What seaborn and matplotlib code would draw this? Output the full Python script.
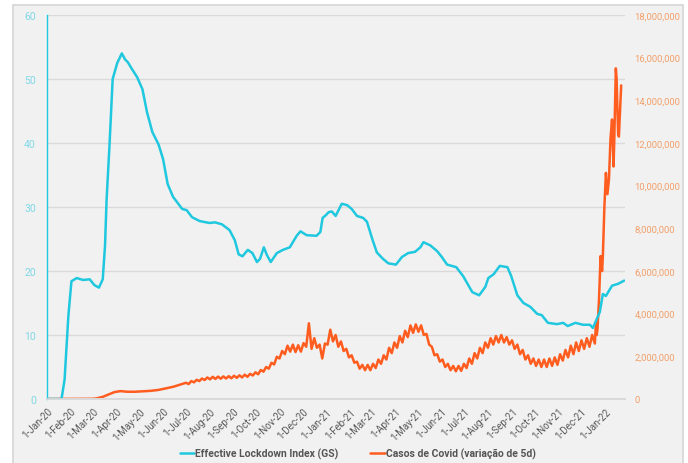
import matplotlib
matplotlib.use("Agg")
import matplotlib.pyplot as plt
import matplotlib.dates as mdates
import matplotlib.ticker as mticker
from matplotlib.patches import Rectangle
import seaborn as sns
import pandas as pd

# Effective Lockdown Index (GS) - left axis
lockdown_dates = [
    "2020-01-01", "2020-01-20", "2020-01-24", "2020-01-29", "2020-02-02", "2020-02-09",
    "2020-02-17", "2020-02-26", "2020-03-03", "2020-03-09", "2020-03-14", "2020-03-17",
    "2020-03-19", "2020-03-23", "2020-03-27", "2020-04-02", "2020-04-08", "2020-04-12",
    "2020-04-16", "2020-04-21", "2020-04-28", "2020-05-05", "2020-05-11", "2020-05-18",
    "2020-05-26", "2020-06-01", "2020-06-07", "2020-06-14", "2020-06-26", "2020-07-02",
    "2020-07-09", "2020-07-19", "2020-08-01", "2020-08-08", "2020-08-17", "2020-08-27",
    "2020-09-03", "2020-09-08", "2020-09-13", "2020-09-20", "2020-09-26", "2020-10-02",
    "2020-10-06", "2020-10-11", "2020-10-15", "2020-10-20", "2020-10-28", "2020-11-05",
    "2020-11-14", "2020-11-23", "2020-11-28", "2020-12-06", "2020-12-19", "2020-12-24",
    "2020-12-27", "2020-12-31", "2021-01-04", "2021-01-08", "2021-01-13", "2021-01-21",
    "2021-01-28", "2021-02-03", "2021-02-10", "2021-02-18", "2021-02-23", "2021-03-02",
    "2021-03-08", "2021-03-16", "2021-03-23", "2021-04-02", "2021-04-10", "2021-04-18",
    "2021-04-27", "2021-05-04", "2021-05-08", "2021-05-17", "2021-05-26", "2021-06-01",
    "2021-06-08", "2021-06-20", "2021-06-29", "2021-07-11", "2021-07-20", "2021-07-28",
    "2021-08-01", "2021-08-08", "2021-08-16", "2021-08-26", "2021-08-31", "2021-09-08",
    "2021-09-16", "2021-09-25", "2021-10-04", "2021-10-10", "2021-10-18", "2021-10-30",
    "2021-11-07", "2021-11-13", "2021-11-23", "2021-12-03", "2021-12-12", "2021-12-16",
    "2021-12-25", "2021-12-29", "2022-01-02", "2022-01-10", "2022-01-18", "2022-01-26",
]
lockdown_values = [
    0, 0, 3, 13, 18.4, 18.9,
    18.6, 18.7, 17.8, 17.4, 18.7, 24,
    31, 40, 50, 52.5, 54, 53.1,
    52.6, 51.6, 50.3, 48.4, 44.8, 41.7,
    39.8, 37.5, 33.6, 31.6, 29.7, 29.5,
    28.4, 27.8, 27.5, 27.6, 27.3, 26.4,
    24.8, 22.6, 22.3, 23.3, 22.8, 21.4,
    21.9, 23.7, 22.5, 21.4, 22.8, 23.3,
    23.7, 25.5, 26.2, 25.6, 25.5, 26.1,
    28.3, 28.7, 29.2, 29.3, 28.6, 30.5,
    30.3, 29.7, 28.6, 28.3, 27.7, 25.0,
    22.9, 21.9, 21.2, 21.0, 22.2, 22.8,
    23.0, 23.7, 24.5, 24.0, 23.1, 22.2,
    21.0, 20.6, 19.2, 16.7, 16.2, 17.5,
    18.9, 19.5, 20.8, 20.6, 19.2, 16.2,
    15.0, 14.4, 13.3, 13.1, 11.9, 11.7,
    11.9, 11.4, 11.9, 11.6, 11.6, 11.1,
    13.6, 16.4, 16.1, 17.7, 18.0, 18.5,
]

# Casos de Covid (variação de 5d), millions - right axis
# first wave, read at irregular dates
cases_early_dates = [
    "2020-01-01", "2020-02-01", "2020-03-01", "2020-03-06", "2020-03-14", "2020-03-22",
    "2020-03-29", "2020-04-06", "2020-04-15", "2020-04-25", "2020-05-05", "2020-05-15",
    "2020-05-25", "2020-06-05", "2020-06-15", "2020-06-24",
]
cases_early_values = [
    0, 0.005, 0.01, 0.03, 0.10, 0.22,
    0.32, 0.37, 0.34, 0.34, 0.36, 0.38,
    0.42, 0.50, 0.58, 0.68,
]
# from 1-Jul-20, one reading every 3.5 days (peaks and troughs of the weekly cycle)
cases_mid_start = "2020-07-01"
cases_mid_values = [
    0.76, 0.70, 0.84, 0.78, 0.90, 0.84, 0.96, 0.89, 1.01,          # Jul-20
    0.92, 1.04, 0.94, 1.05, 0.95, 1.06, 0.96, 1.07, 0.97,          # Aug-20
    1.09, 0.99, 1.11, 1.01, 1.14, 1.04, 1.18, 1.10, 1.25,          # Sep-20
    1.16, 1.36, 1.28, 1.50, 1.42, 1.70, 1.62, 1.98, 1.90,          # Oct-20
    2.25, 2.10, 2.50, 2.22, 2.55, 2.20, 2.52, 2.22,                # Nov-20
    2.62, 2.45, 3.55, 2.35, 2.85, 2.40, 2.55, 1.90, 2.60,          # Dec-20
    2.55, 3.25, 2.70, 3.00, 2.45, 2.70, 2.25, 2.35, 1.95,          # Jan-21
    2.05, 1.70, 1.75, 1.42, 1.60, 1.35, 1.60, 1.35,                # Feb-21
    1.65, 1.45, 1.85, 1.65, 2.05, 1.85, 2.40, 2.15, 2.65,          # Mar-21
    2.40, 2.95, 2.65, 3.20, 2.90, 3.45, 3.10, 3.50,                # Apr-21
    3.15, 3.45, 3.00, 3.05, 2.55, 2.45, 2.05, 2.10, 1.75,          # May-21
    1.85, 1.50, 1.65, 1.35, 1.55, 1.30, 1.55, 1.32, 1.65,          # Jun-21
    1.45, 1.90, 1.65, 2.15, 1.90, 2.40, 2.15, 2.65, 2.40,          # Jul-21
    2.85, 2.55, 2.95, 2.65, 3.00, 2.65, 2.90, 2.55,                # Aug-21
    2.75, 2.35, 2.55, 2.10, 2.30, 1.85, 2.05, 1.65, 1.90,          # Sep-21
    1.55, 1.85, 1.50, 1.85, 1.50, 1.90, 1.55, 1.95, 1.60,          # Oct-21
    2.10, 1.80, 2.30, 1.95, 2.50, 2.10, 2.65, 2.25,                # Nov-21
    2.75, 2.35, 2.85, 2.45, 3.00, 2.60,                            # Dec-21
]
# omicron surge, daily readings
cases_late_dates = [
    "2021-12-20", "2021-12-21", "2021-12-22", "2021-12-24", "2021-12-26", "2021-12-28",
    "2021-12-29", "2021-12-31", "2022-01-02", "2022-01-04", "2022-01-06", "2022-01-08",
    "2022-01-10", "2022-01-12", "2022-01-13", "2022-01-15", "2022-01-16", "2022-01-18",
    "2022-01-19", "2022-01-22",
]
cases_late_values = [
    3.6, 3.0, 3.3, 4.7, 6.7, 6.0,
    6.7, 9.0, 10.6, 9.6, 10.3, 12.2,
    13.1, 10.9, 12.2, 15.5, 15.0, 12.4,
    12.3, 14.7,
]

lockdown = pd.DataFrame({"date": pd.to_datetime(lockdown_dates), "value": lockdown_values})
cases = pd.concat([
    pd.DataFrame({"date": pd.to_datetime(cases_early_dates), "value": cases_early_values}),
    pd.DataFrame({"date": pd.date_range(cases_mid_start, periods=len(cases_mid_values), freq="84h"),
                  "value": cases_mid_values}),
    pd.DataFrame({"date": pd.to_datetime(cases_late_dates), "value": cases_late_values}),
], ignore_index=True)
cases["value"] = cases["value"] * 1e6

CYAN = "#1fc8de"
ORANGE = "#ff5d1f"
BG = "#f1f1f1"

sns.set_theme(style="white")
plt.rcParams["font.family"] = ["Roboto", "DejaVu Sans"]

fig = plt.figure(figsize=(6.88, 4.64), dpi=100, facecolor="white")
# grey card behind the chart
fig.patches.append(Rectangle((13 / 688, -0.01), 670 / 688, 1 - 6 / 464 + 0.01,
                             transform=fig.transFigure, facecolor=BG,
                             edgecolor="#d6d6d6", linewidth=1.2, zorder=-10))
ax = fig.add_axes([47 / 688, 64 / 464, 578 / 688, 384 / 464])
ax.set_facecolor(BG)
ax2 = ax.twinx()

sns.lineplot(data=cases, x="date", y="value", ax=ax2, color=ORANGE, linewidth=1.8,
             label="Casos de Covid (variação de 5d)", legend=False)
sns.lineplot(data=lockdown, x="date", y="value", ax=ax, color=CYAN, linewidth=1.8,
             label="Effective Lockdown Index (GS)", legend=False)
# cyan line on top, grid behind the orange line
ax2.set_zorder(1)
ax.set_zorder(2)
ax.patch.set_visible(False)
ax2.patch.set_visible(True)
ax2.patch.set_facecolor(BG)

ax.set_xlim(pd.Timestamp("2020-01-01"), pd.Timestamp("2022-01-27"))
ax.set_ylim(0, 60)
ax2.set_ylim(0, 18e6)
ax.set_yticks(range(0, 61, 10))
ax2.set_yticks(range(0, 18000001, 2000000))
ax2.yaxis.set_major_formatter(mticker.FuncFormatter(lambda v, p: f"{int(v):,}"))

ax.xaxis.set_major_locator(mdates.MonthLocator())
ax.xaxis.set_major_formatter(mdates.DateFormatter("1-%b-%y"))
for lab in ax.get_xticklabels():
    lab.set_rotation(45)
    lab.set_ha("right")
    lab.set_rotation_mode("anchor")
ax.tick_params(axis="x", labelsize=7, colors="#595959", length=3, width=0.8,
               color="#cfcfcf", pad=2)
ax.tick_params(axis="y", labelsize=7.5, colors="#7fd8e6", length=0, pad=8)
ax2.tick_params(axis="y", labelsize=6.8, colors="#f2a06a", length=0, pad=7)

ax2.yaxis.grid(False)
ax.yaxis.grid(False)
# horizontal grid drawn on the back axes so the orange line sits above it
for v in range(10, 61, 10):
    ax2.axhline(v * 3e5, color="#dadada", linewidth=1, zorder=0)
ax.set_xlabel("")
ax.set_ylabel("")
ax2.set_ylabel("")

for a in (ax, ax2):
    for s in ("top", "right", "left"):
        a.spines[s].set_visible(False)
    a.spines["bottom"].set_color("#dadada")
ax.spines["left"].set_visible(True)
ax.spines["left"].set_color(CYAN)
ax.spines["left"].set_linewidth(1)

h1, l1 = ax.get_legend_handles_labels()
h2, l2 = ax2.get_legend_handles_labels()
leg = fig.legend(h1 + h2, l1 + l2, loc="lower center", bbox_to_anchor=(0.52, -0.012),
                 ncol=2, frameon=False, fontsize=7.5, handlelength=1.4,
                 handletextpad=0.1, columnspacing=3.0)
for t in leg.get_texts():
    t.set_color("#555555")
    t.set_fontweight("bold")

fig.savefig("out.png", dpi=100, facecolor="white")
